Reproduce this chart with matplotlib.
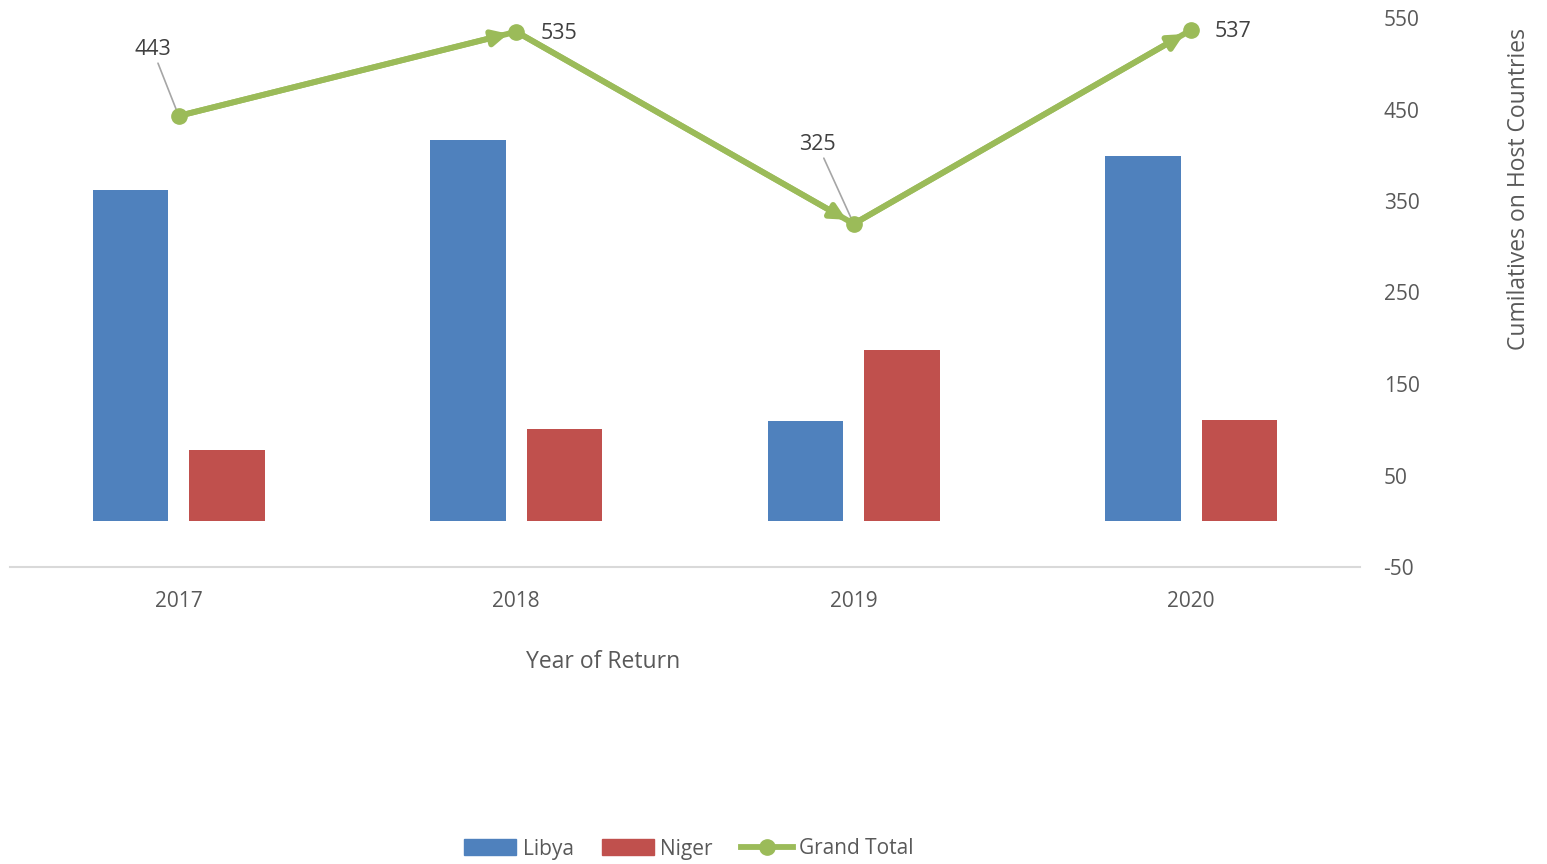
import numpy as np
import matplotlib
matplotlib.use('Agg')
import matplotlib.pyplot as plt
from matplotlib.patches import Patch
from matplotlib.lines import Line2D

plt.rcParams['font.family'] = ['Open Sans', 'DejaVu Sans']
plt.rcParams['axes.unicode_minus'] = False

years = ['2017', '2018', '2019', '2020']
libya = [362, 417, 110, 399]
niger = [78, 101, 187, 111]
grand_total = [443, 535, 325, 537]

blue = '#4F81BD'
red = '#C0504D'
green = '#9BBB59'
text_c = '#595959'
label_c = '#404040'

fig = plt.figure(figsize=(15.47, 8.64), dpi=100)
ax = fig.add_axes([10 / 1547, 1 - 567 / 864, 1350 / 1547, 549 / 864])

x = np.arange(len(years))
w = 0.225
ax.bar(x - 0.143, libya, w, color=blue)
ax.bar(x + 0.143, niger, w, color=red)

# grand total line, with an arrow head at the end of each segment
lw = 4.2
ax.plot(x, grand_total, color=green, lw=lw, marker='o', ms=11, zorder=4)
for i in range(len(x) - 1):
    ax.annotate('', xy=(x[i + 1], grand_total[i + 1]), xytext=(x[i], grand_total[i]),
                arrowprops=dict(arrowstyle='-|>,head_length=0.9,head_width=0.45',
                                color=green, lw=lw, shrinkA=0, shrinkB=6),
                zorder=4)

# data labels
leader = dict(arrowstyle='-', color='#A6A6A6', lw=1.2, shrinkA=0, shrinkB=0)
fs = 15.5
ax.annotate(str(grand_total[0]), xy=(x[0], grand_total[0]), xytext=(-26, 66),
            textcoords='offset pixels', ha='center', va='center', fontsize=fs,
            color=label_c, arrowprops=leader)
ax.annotate(str(grand_total[1]), xy=(x[1], grand_total[1]), xytext=(24, -2),
            textcoords='offset pixels', ha='left', va='center', fontsize=fs,
            color=label_c)
ax.annotate(str(grand_total[2]), xy=(x[2], grand_total[2]), xytext=(-36, 79),
            textcoords='offset pixels', ha='center', va='center', fontsize=fs,
            color=label_c, arrowprops=leader)
ax.annotate(str(grand_total[3]), xy=(x[3], grand_total[3]), xytext=(23, -2),
            textcoords='offset pixels', ha='left', va='center', fontsize=fs,
            color=label_c)

ax.set_xlim(-0.5, 3.5)
ax.set_ylim(-50, 550)
ax.set_xticks(x)
ax.set_xticklabels(years)
ax.set_yticks(np.arange(-50, 551, 100))
ax.yaxis.tick_right()
ax.tick_params(axis='both', length=0, labelsize=15, labelcolor=text_c)
ax.tick_params(axis='x', pad=17)
ax.tick_params(axis='y', pad=17)
for s in ['top', 'left', 'right']:
    ax.spines[s].set_visible(False)
ax.spines['bottom'].set_color('#D9D9D9')
ax.spines['bottom'].set_linewidth(1.5)

fig.text(603 / 1547, 1 - 662 / 864, 'Year of Return', ha='center', va='center',
         fontsize=16.5, color=text_c)
fig.text(1519 / 1547, 1 - 189 / 864, 'Cumilatives on Host Countries', ha='center',
         va='center', rotation=90, fontsize=16.5, color=text_c)

handles = [Patch(color=blue, label='Libya'),
           Patch(color=red, label='Niger'),
           Line2D([], [], color=green, lw=lw, marker='o', ms=11, label='Grand Total')]
fig.legend(handles=handles, loc='center', bbox_to_anchor=(689 / 1547, 1 - 849 / 864),
           ncol=3, frameon=False, fontsize=15, labelcolor=text_c,
           handlelength=2.5, handleheight=0.8, handletextpad=0.3, columnspacing=1.35)

fig.savefig('out.png', dpi=100)
